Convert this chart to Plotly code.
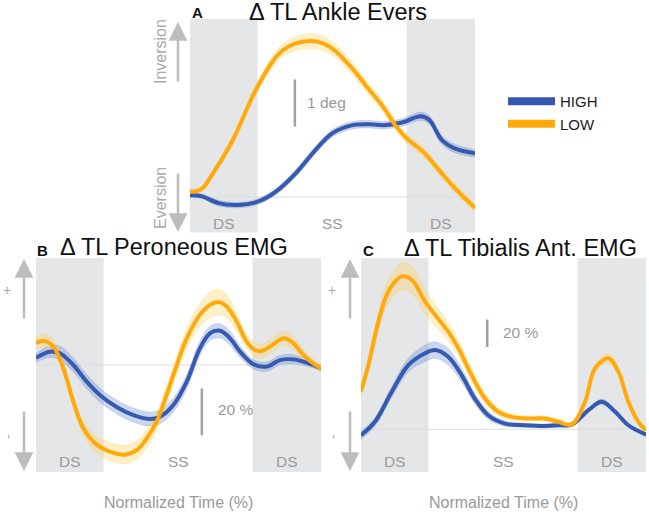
import plotly.graph_objects as go

# ---------------- data ----------------
A_high_x = [0, 4, 10, 17, 23.7, 30, 37, 44, 50, 57, 63, 68, 74, 81, 84, 88.4, 92.6, 100]
A_high_y = [0.04, 0.02, -0.13, -0.17, -0.10, 0.11, 0.50, 1.00, 1.36, 1.53, 1.55, 1.53, 1.58, 1.72, 1.64, 1.21, 1.04, 0.93]
A_high_se = [0.05, 0.05, 0.06, 0.06, 0.06, 0.07, 0.08, 0.08, 0.08, 0.08, 0.08, 0.08, 0.08, 0.09, 0.09, 0.09, 0.09, 0.08]
A_low_x = [0, 4, 8, 15, 23.7, 32.7, 42, 49, 56, 62, 67.8, 72, 76, 82, 87, 92, 96, 100]
A_low_y = [0.11, 0.17, 0.5, 1.21, 2.35, 3.13, 3.32, 3.2, 2.8, 2.35, 1.92, 1.53, 1.25, 0.95, 0.6, 0.25, 0.0, -0.23]
A_low_se = [0.05, 0.06, 0.08, 0.10, 0.12, 0.14, 0.16, 0.15, 0.14, 0.13, 0.12, 0.11, 0.10, 0.10, 0.10, 0.10, 0.10, 0.08]

B_high_x = [0, 4.9, 8.4, 13.1, 17.8, 22.5, 28.3, 34.2, 40, 43.5, 48.2, 52.9, 57.5, 61.1, 64.6, 68.1, 71.6, 76.3, 81, 85.6, 90.3, 95, 100]
B_high_y = [3.1, 5.7, 5, 0, -7.1, -12.9, -17.9, -21.4, -23.1, -22.1, -17.1, -7.1, 7.1, 13.6, 14.6, 11.4, 5.7, 0.3, -0.7, 2.1, 2.4, 1, -1.4]
B_high_se = [2, 2.5, 3, 3, 3, 3, 3, 3, 3, 3, 3, 3, 3, 3, 3, 3, 2.5, 2, 2, 2, 2, 1.5, 1]
B_low_x = [0, 2.6, 6.1, 9.6, 13.1, 16.6, 21.3, 26, 31.2, 35.3, 38.8, 42.3, 45.8, 49.4, 52.9, 57.5, 61.1, 64, 66.9, 70.4, 73.9, 76.8, 79.2, 82.1, 86.8, 89.7, 93.8, 97.3, 100]
B_low_y = [9.3, 10.3, 7.9, -1.4, -15.7, -27, -34, -37, -38.3, -36.4, -31.4, -24.3, -12.9, 0, 11.4, 21.4, 25.7, 26.9, 25, 18.6, 10, 6.4, 6, 7.9, 11.4, 10, 4.3, 0.7, -1.4]
B_low_se = [2.5, 3, 3, 3, 3, 3, 3.5, 4, 4, 4, 4, 4, 4, 4, 4.5, 5, 5.5, 5.5, 5, 4, 3, 3, 3, 3, 3, 3, 2.5, 2, 1.5]

C_high_x = [0, 4.9, 10.8, 16.6, 22.5, 26, 30.6, 35.3, 39.9, 44.6, 50.5, 57.5, 64.6, 69.2, 73.9, 79.8, 84.5, 89.2, 93.8, 100]
C_high_y = [-4.4, 5.4, 27.3, 46.8, 55.4, 57.8, 52.9, 39.5, 22.4, 10.2, 4.1, 2.9, 2.4, 2.9, 3.4, 13.9, 20, 12.7, 2.9, -3.9]
C_high_se = [3, 3, 4, 5, 6, 6, 6, 5, 4, 3, 2, 1.5, 1.5, 1.5, 1.5, 1.5, 2, 2, 1.5, 1.5]
C_low_x = [0, 2.6, 6.1, 9.6, 14.3, 17.8, 22.5, 26, 30.6, 34.2, 38.8, 43.5, 48.2, 52.9, 58.7, 64.6, 69.2, 73.9, 78.6, 82.1, 86.8, 90.3, 93.8, 97.3, 100]
C_low_y = [27.3, 46.8, 78.5, 100.5, 111.5, 109, 93, 83.4, 71.2, 59, 39.5, 22.4, 12.7, 9, 7.8, 7.8, 5.4, 3.4, 20, 44.4, 51.7, 42, 20, 5.4, -0.7]
C_low_se = [4, 5, 7, 9, 10, 10, 9, 8, 7, 6, 5, 4, 3, 2.5, 2, 2, 2, 2, 2.5, 3, 3.5, 3, 2.5, 2, 2]

phase_labels = ["DS", "SS", "DS"]
DS1_END = 23.7
DS2_START = 76.0
series_names = ["HIGH", "LOW"]
titles = ["Δ TL Ankle Evers", "Δ TL Peroneous EMG", "Δ TL Tibialis Ant. EMG"]
letters = ["A", "B", "C"]

BLUE = "#3759B0"
ORANGE = "#FFAA0C"
BLUE_BAND = "rgba(90,130,210,0.32)"
ORANGE_BAND = "rgba(255,205,80,0.32)"
SHADE = "#E5E6E8"
GRAY_TXT = "#9A9A9A"
ARROW = "#BDBDBD"
FONT = "Liberation Sans, Arial, sans-serif"

fig = go.Figure()

panels = [
    ("x", "y", [(A_high_x, A_high_y, A_high_se, BLUE, BLUE_BAND), (A_low_x, A_low_y, A_low_se, ORANGE, ORANGE_BAND)]),
    ("x2", "y2", [(B_high_x, B_high_y, B_high_se, BLUE, BLUE_BAND), (B_low_x, B_low_y, B_low_se, ORANGE, ORANGE_BAND)]),
    ("x3", "y3", [(C_high_x, C_high_y, C_high_se, BLUE, BLUE_BAND), (C_low_x, C_low_y, C_low_se, ORANGE, ORANGE_BAND)]),
]

for xa, ya, series in panels:
    for xs, ys, se, col, band in series:
        up = [v + s for v, s in zip(ys, se)]
        lo = [v - s for v, s in zip(ys, se)]
        fig.add_trace(go.Scatter(x=xs, y=up, xaxis=xa, yaxis=ya, mode="lines",
                                 line=dict(width=0.6, color=band, shape="spline"),
                                 showlegend=False, hoverinfo="skip"))
        fig.add_trace(go.Scatter(x=xs, y=lo, xaxis=xa, yaxis=ya, mode="lines",
                                 line=dict(width=0.6, color=band, shape="spline"),
                                 fill="tonexty", fillcolor=band,
                                 showlegend=False, hoverinfo="skip"))
    for xs, ys, se, col, band in series:
        fig.add_trace(go.Scatter(x=xs, y=ys, xaxis=xa, yaxis=ya, mode="lines",
                                 line=dict(width=4, color=col, shape="spline"),
                                 showlegend=False, hoverinfo="skip"))

for name, col in zip(series_names, [BLUE, ORANGE]):
    fig.add_trace(go.Scatter(x=[None], y=[None], mode="lines", name=name,
                             line=dict(width=8, color=col)))

W, H = 649, 514
def px(x):
    return x / W
def py(y):
    return 1 - y / H

axis_common = dict(visible=False, showgrid=False, zeroline=False, range=[0, 100], fixedrange=True)
fig.update_layout(
    width=W, height=H,
    margin=dict(l=0, r=0, t=0, b=0),
    paper_bgcolor="white", plot_bgcolor="white",
    font=dict(family=FONT),
    xaxis=dict(domain=[px(190), px(475)], anchor="y", **axis_common),
    yaxis=dict(domain=[py(232.5), py(19)], anchor="x", range=[-0.755, 3.79], visible=False, showgrid=False, zeroline=False),
    xaxis2=dict(domain=[px(36), px(321)], anchor="y2", **axis_common),
    yaxis2=dict(domain=[py(472), py(258)], anchor="x2", range=[-45.7, 45.7], visible=False, showgrid=False, zeroline=False),
    xaxis3=dict(domain=[px(361), px(646)], anchor="y3", **axis_common),
    yaxis3=dict(domain=[py(472), py(258)], anchor="x3", range=[-31.2, 124.9], visible=False, showgrid=False, zeroline=False),
    legend=dict(x=px(503), y=py(85), xanchor="left", yanchor="top", traceorder="normal",
                font=dict(size=15, color="#222", family=FONT),
                bgcolor="rgba(0,0,0,0)", itemwidth=47, tracegroupgap=0),
    showlegend=True,
)

shapes = []
annotations = []
suffixes = ["", "2", "3"]
for i, s in enumerate(suffixes):
    xr = "x" + s
    yr = "y" + s
    for x0, x1 in [(0, DS1_END), (DS2_START, 100)]:
        shapes.append(dict(type="rect", xref=xr, yref=yr + " domain", x0=x0, x1=x1, y0=0, y1=1,
                           fillcolor=SHADE, line=dict(width=0), layer="below"))
    shapes.append(dict(type="line", xref=xr, yref=yr, x0=0, x1=100, y0=0, y1=0,
                       line=dict(color="#DCDCDC", width=1), layer="below"))
    ylab = 0.044 if i == 0 else 0.051
    for lab, xc in zip(phase_labels, [DS1_END / 2, (DS1_END + DS2_START) / 2, (DS2_START + 100) / 2]):
        annotations.append(dict(text=lab, xref=xr, yref=yr + " domain", x=xc, y=ylab,
                                xanchor="center", yanchor="middle",
                                showarrow=False, font=dict(size=15.5, color=GRAY_TXT)))

scale_bars = [("x", "y", 36.8, 1.5, 2.5, 40.4, 2.02, "1 deg"),
              ("x2", "y2", 58.2, -30, -10, 63.0, -19, "20 %"),
              ("x3", "y3", 44.3, 60, 80, 49.0, 70.7, "20 %")]
for xr, yr, xb, y0, y1, xt, yt, txt in scale_bars:
    shapes.append(dict(type="line", xref=xr, yref=yr, x0=xb, x1=xb, y0=y0, y1=y1,
                       line=dict(color="#A0A0A0", width=2.5)))
    annotations.append(dict(text=txt, xref=xr, yref=yr, x=xt, y=yt, xanchor="left", yanchor="middle",
                            showarrow=False, font=dict(size=15.5, color=GRAY_TXT)))

title_pos = [(338.5, 12), (174, 247), (520.5, 248)]
letter_pos = [(197, 12), (42, 250), (368, 250)]
for t, (tx, ty) in zip(titles, title_pos):
    annotations.append(dict(text=t, xref="paper", yref="paper", x=px(tx), y=py(ty),
                            xanchor="center", yanchor="middle",
                            showarrow=False, font=dict(size=23.5, color="#111")))
for l, (lx, ly) in zip(letters, letter_pos):
    annotations.append(dict(text="<b>" + l + "</b>", xref="paper", yref="paper", x=px(lx), y=py(ly),
                            xanchor="center", yanchor="middle",
                            showarrow=False, font=dict(size=15, color="#111")))

for s in ["2", "3"]:
    annotations.append(dict(text="Normalized Time (%)", xref="x" + s + " domain", yref="paper",
                            x=0.5, y=py(502), xanchor="center", yanchor="middle",
                            showarrow=False, font=dict(size=16, color=GRAY_TXT)))

arrows = [(178, 22, 61), (178, 232, -60), (24, 259, 61), (24, 471, -61), (350, 259, 61), (350, 471, -61)]
for ax_, ay_, off in arrows:
    annotations.append(dict(text="", xref="paper", yref="paper", x=px(ax_), y=py(ay_),
                            ax=0, ay=off, showarrow=True, arrowhead=2, arrowsize=1.5,
                            arrowwidth=2.5, arrowcolor=ARROW))

side_labels = [("Inversion", 161, 52), ("Eversion", 161, 198),
               ("+", 7, 290), ("-", 8, 437), ("+", 332, 290), ("-", 333, 437)]
for txt, sx, sy in side_labels:
    annotations.append(dict(text=txt, xref="paper", yref="paper", x=px(sx), y=py(sy),
                            xanchor="center", yanchor="middle",
                            textangle=-90 if txt != "+" else 0, showarrow=False,
                            font=dict(size=16 if len(txt) > 1 else 14, color="#AAAAAA")))

fig.update_layout(shapes=shapes, annotations=annotations)
fig.write_html("out.html", config={"displayModeBar": False},
               post_script="document.body.style.margin='0px';document.body.style.overflow='hidden';")
